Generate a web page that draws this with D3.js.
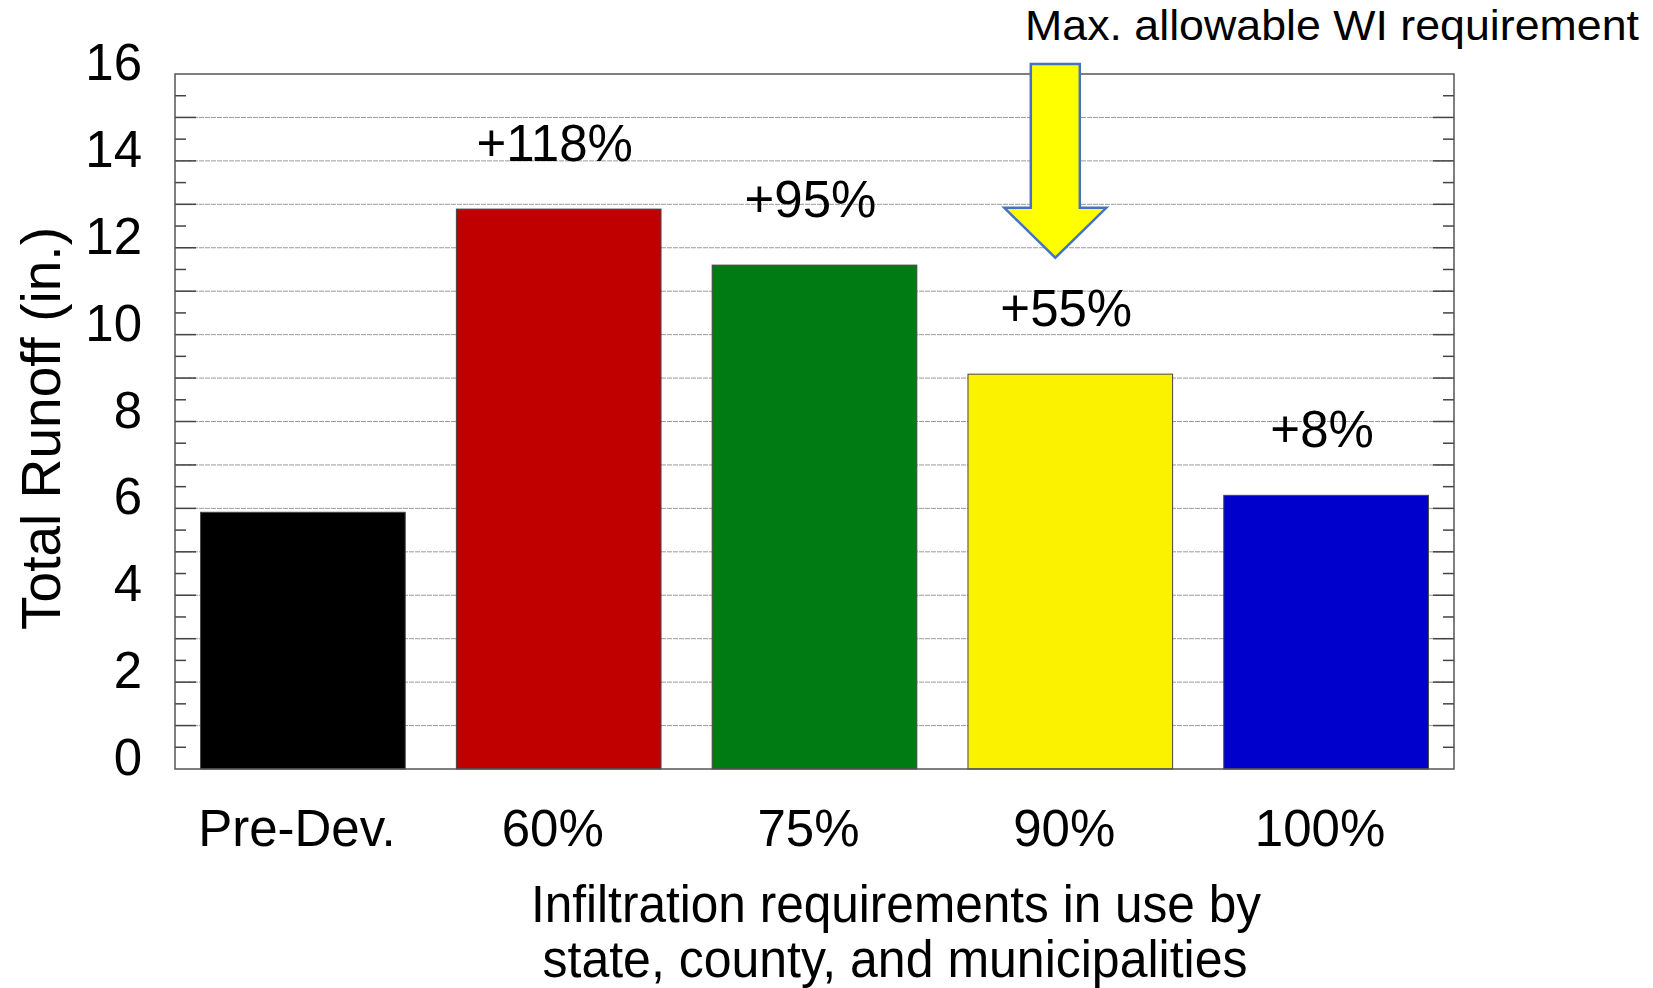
<!DOCTYPE html>
<html>
<head>
<meta charset="utf-8">
<script src="https://cdn.jsdelivr.net/npm/d3@7"></script>
<style>
  body { margin: 0; background: #fff; }
  svg { display: block; }
  .grid line { stroke: #9a9a9a; stroke-width: 1; stroke-dasharray: 5 1; }
  .frame { fill: none; stroke: #555; stroke-width: 1.5; }
  .tick-mark { stroke: #444; stroke-width: 1.5; }
  .bar { stroke: #444; stroke-width: 1; }
  text { font-family: "Liberation Sans", Arial, Helvetica, sans-serif; fill: #000; }
</style>
</head>
<body>
<svg id="chart" width="1653" height="988"></svg>
<script>
// data
const categories = ["Pre-Dev.", "60%", "75%", "90%", "100%"];
const runoff = [5.91, 12.89, 11.6, 9.09, 6.3];
const changeLabels = ["", "+118%", "+95%", "+55%", "+8%"];
const barColors = ["#000000", "#c00000", "#007b13", "#fbf200", "#0000cc"];
const yTicks = [0, 2, 4, 6, 8, 10, 12, 14, 16];

const svg = d3.select("#chart");
const margin = { top: 74, right: 199, bottom: 219, left: 175 };
const width = +svg.attr("width");
const height = +svg.attr("height");
const innerW = width - margin.left - margin.right;
const innerH = height - margin.top - margin.bottom;

const x = d3.scaleBand()
  .domain(categories)
  .range([margin.left, margin.left + innerW])
  .paddingInner(0.2)
  .paddingOuter(0.1);

const y = d3.scaleLinear()
  .domain([0, 16])
  .range([margin.top + innerH, margin.top]);

svg.append("rect").attr("width", width).attr("height", height).attr("fill", "#fff");

//Gridlines at every unit
const grid = svg.append("g").classed("grid", true);
grid.selectAll("line")
  .data(d3.range(1, 16))
  .join("line")
  .attr("x1", margin.left)
  .attr("x2", margin.left + innerW)
  .attr("y1", (d) => y(d))
  .attr("y2", (d) => y(d));

//Bars
svg.append("g")
  .selectAll("rect")
  .data(categories)
  .join("rect")
  .classed("bar", true)
  .attr("x", (d) => x(d))
  .attr("width", x.bandwidth())
  .attr("y", (d, i) => y(runoff[i]))
  .attr("height", (d, i) => y(0) - y(runoff[i]))
  .attr("fill", (d, i) => barColors[i]);

//Inward ticks on both sides: majors at integers, minors at halves
const tickVals = d3.range(0.5, 16, 0.5);
const ticks = svg.append("g");
[margin.left, margin.left + innerW].forEach((edge, side) => {
  const dir = side === 0 ? 1 : -1;
  ticks.append("g")
    .selectAll("line")
    .data(tickVals)
    .join("line")
    .classed("tick-mark", true)
    .attr("x1", edge)
    .attr("x2", (d) => edge + dir * (Number.isInteger(d) ? 21 : 11))
    .attr("y1", (d) => y(d))
    .attr("y2", (d) => y(d));
});

//Frame
svg.append("rect")
  .classed("frame", true)
  .attr("x", margin.left)
  .attr("y", margin.top)
  .attr("width", innerW)
  .attr("height", innerH);

//Y tick labels
svg.append("g")
  .selectAll("text")
  .data(yTicks)
  .join("text")
  .attr("x", 142)
  .attr("y", (d) => y(d) + 6)
  .attr("text-anchor", "end")
  .attr("font-size", 51)
  .text((d) => d);

//X tick labels
svg.append("g")
  .selectAll("text")
  .data(categories)
  .join("text")
  .attr("x", (d) => x(d) + x.bandwidth() / 2 - 6)
  .attr("y", 846)
  .attr("text-anchor", "middle")
  .attr("font-size", 51)
  .text((d) => d);

//Percent change labels above bars
svg.append("g")
  .selectAll("text")
  .data(categories)
  .join("text")
  .attr("x", (d) => x(d) + x.bandwidth() / 2 - 4)
  .attr("y", (d, i) => y(runoff[i]) - 48)
  .attr("text-anchor", "middle")
  .attr("font-size", 51)
  .text((d, i) => changeLabels[i]);

//Axis titles
svg.append("text")
  .attr("transform", `translate(60,${y(0) - innerH / 2 + 7}) rotate(-90)`)
  .attr("text-anchor", "middle")
  .attr("font-size", 55)
  .attr("textLength", 403)
  .attr("lengthAdjust", "spacingAndGlyphs")
  .text("Total Runoff (in.)");

svg.append("text")
  .attr("x", 896)
  .attr("y", 922)
  .attr("text-anchor", "middle")
  .attr("font-size", 51)
  .attr("textLength", 730)
  .attr("lengthAdjust", "spacingAndGlyphs")
  .text("Infiltration requirements in use by");

svg.append("text")
  .attr("x", 895)
  .attr("y", 977)
  .attr("text-anchor", "middle")
  .attr("font-size", 51)
  .attr("textLength", 705)
  .attr("lengthAdjust", "spacingAndGlyphs")
  .text("state, county, and municipalities");

//Annotation arrow over the 90% bar, in data units
const ax = x("90%") + x.bandwidth() / 2 - 15;
const arrow = [
  [ax - 24.5, y(16.23)],
  [ax + 24.5, y(16.23)],
  [ax + 24.5, y(12.92)],
  [ax + 51, y(12.92)],
  [ax, y(11.77)],
  [ax - 51, y(12.92)],
  [ax - 24.5, y(12.92)],
];
svg.append("path")
  .attr("d", d3.line()(arrow) + "Z")
  .attr("fill", "#ffff00")
  .attr("stroke", "#4472c4")
  .attr("stroke-width", 2.5)
  .attr("stroke-linejoin", "miter");

svg.append("text")
  .attr("x", 1025)
  .attr("y", 40)
  .attr("font-family", "Lato, 'Open Sans', sans-serif")
  .attr("font-size", 42)
  .attr("textLength", 614)
  .attr("lengthAdjust", "spacingAndGlyphs")
  .text("Max. allowable WI requirement");
</script>
</body>
</html>
